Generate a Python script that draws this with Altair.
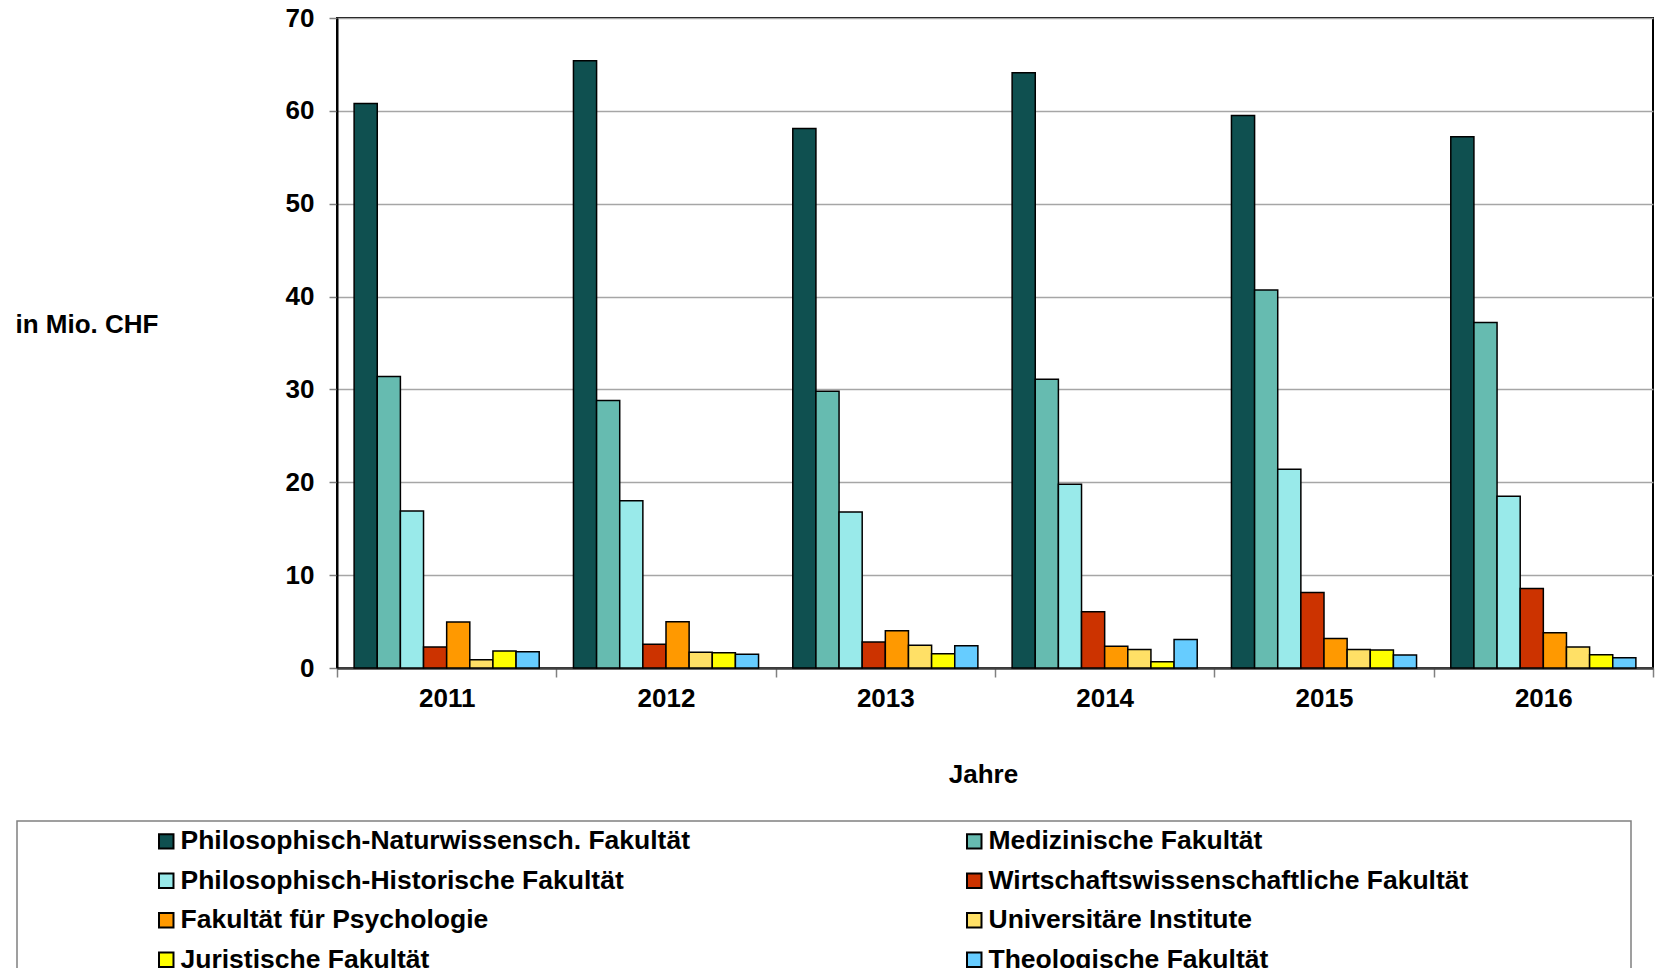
import altair as alt
import pandas as pd

years = ["2011", "2012", "2013", "2014", "2015", "2016"]
series = [
    "Philosophisch-Naturwissensch. Fakultät",
    "Medizinische Fakultät",
    "Philosophisch-Historische Fakultät",
    "Wirtschaftswissenschaftliche Fakultät",
    "Fakultät für Psychologie",
    "Universitäre Institute",
    "Juristische Fakultät",
    "Theologische Fakultät",
]
colors = ["#0F5050", "#66BBB0", "#99EAEA", "#CC3300", "#FF9900", "#FFE066", "#FFFF00", "#66CCFF"]

phil_nat = [60.8, 65.4, 58.1, 64.1, 59.5, 57.2]
medizin = [31.4, 28.8, 29.8, 31.1, 40.7, 37.2]
phil_hist = [16.9, 18.0, 16.8, 19.8, 21.4, 18.5]
wirtschaft = [2.26, 2.55, 2.8, 6.05, 8.14, 8.55]
psychologie = [4.95, 4.98, 4.0, 2.33, 3.19, 3.8]
institute = [0.9, 1.69, 2.44, 2.0, 2.0, 2.26]
juristisch = [1.83, 1.65, 1.54, 0.68, 1.93, 1.43]
theologie = [1.75, 1.47, 2.4, 3.08, 1.4, 1.1]

values = [phil_nat, medizin, phil_hist, wirtschaft, psychologie, institute, juristisch, theologie]
rows = [
    {"Jahr": y, "Fakultät": s, "Wert": v}
    for s, vals in zip(series, values)
    for y, v in zip(years, vals)
]
df = pd.DataFrame(rows)

W, H = 1316, 650
FONT = "Liberation Sans"

bars = alt.Chart(df).mark_bar(stroke="black", strokeWidth=1.5).encode(
    x=alt.X(
        "Jahr:N",
        sort=years,
        scale=alt.Scale(paddingInner=0, paddingOuter=0),
        axis=alt.Axis(
            title="Jahre",
            labelAngle=0,
            tickBand="extent",
            tickSize=9,
            tickColor="#808080",
            tickWidth=1.5,
            domainColor="#404040",
            domainWidth=2.5,
            labelPadding=21,
            labelBaseline="middle",
            titleX=646,
            titleY=106,
            titleAlign="center",
            titleBaseline="middle",
        ),
    ),
    xOffset=alt.XOffset(
        "Fakultät:N", sort=series, scale=alt.Scale(paddingInner=0, paddingOuter=0.74)
    ),
    y=alt.Y(
        "Wert:Q",
        scale=alt.Scale(domain=[0, 70], nice=False),
        axis=alt.Axis(
            values=[0, 10, 20, 30, 40, 50, 60, 70],
            title="in Mio. CHF",
            titleAngle=0,
            titleX=-322,
            titleY=306,
            titleAlign="left",
            titleBaseline="middle",
            tickSize=8,
            tickColor="#808080",
            tickWidth=1.5,
            labelPadding=15,
            domainColor="black",
            domainWidth=2,
            grid=True,
            gridColor="#A6A6A6",
            gridWidth=1.5,
        ),
    ),
    color=alt.Color(
        "Fakultät:N",
        sort=series,
        scale=alt.Scale(domain=series, range=colors),
        legend=alt.Legend(
            title=None,
            orient="none",
            direction="horizontal",
            legendX=-184,
            legendY=810,
            columns=2,
            columnPadding=271,
            rowPadding=12.5,
            symbolType="square",
            symbolSize=210,
            symbolStrokeColor="black",
            symbolStrokeWidth=2,
            symbolOpacity=1,
            labelFont=FONT,
            labelFontSize=26.5,
            labelFontWeight="bold",
            labelColor="black",
            labelOffset=1,
            labelLimit=1000,
            padding=0,
        ),
    ),
)

frame_df = pd.DataFrame({"k": [0]})
legend_frame = alt.Chart(frame_df).mark_rect(
    fill="transparent", stroke="#808080", strokeWidth=1.5
).encode(
    x=alt.value(-320), x2=alt.value(1294), y=alt.value(803), y2=alt.value(1000)
)

chart = alt.layer(bars, legend_frame).properties(
    width=W,
    height=H,
    autosize=alt.AutoSizeParams(type="none"),
    padding={"left": 329, "top": 10, "right": 2, "bottom": 300},
).configure_view(
    stroke="black", strokeWidth=2
).configure_axis(
    labelFont=FONT,
    labelFontSize=26,
    labelFontWeight="bold",
    labelColor="black",
    titleFont=FONT,
    titleFontSize=26,
    titleFontWeight="bold",
    titleColor="black",
)

chart.save("out.html", embed_options={"renderer": "svg", "actions": False})
